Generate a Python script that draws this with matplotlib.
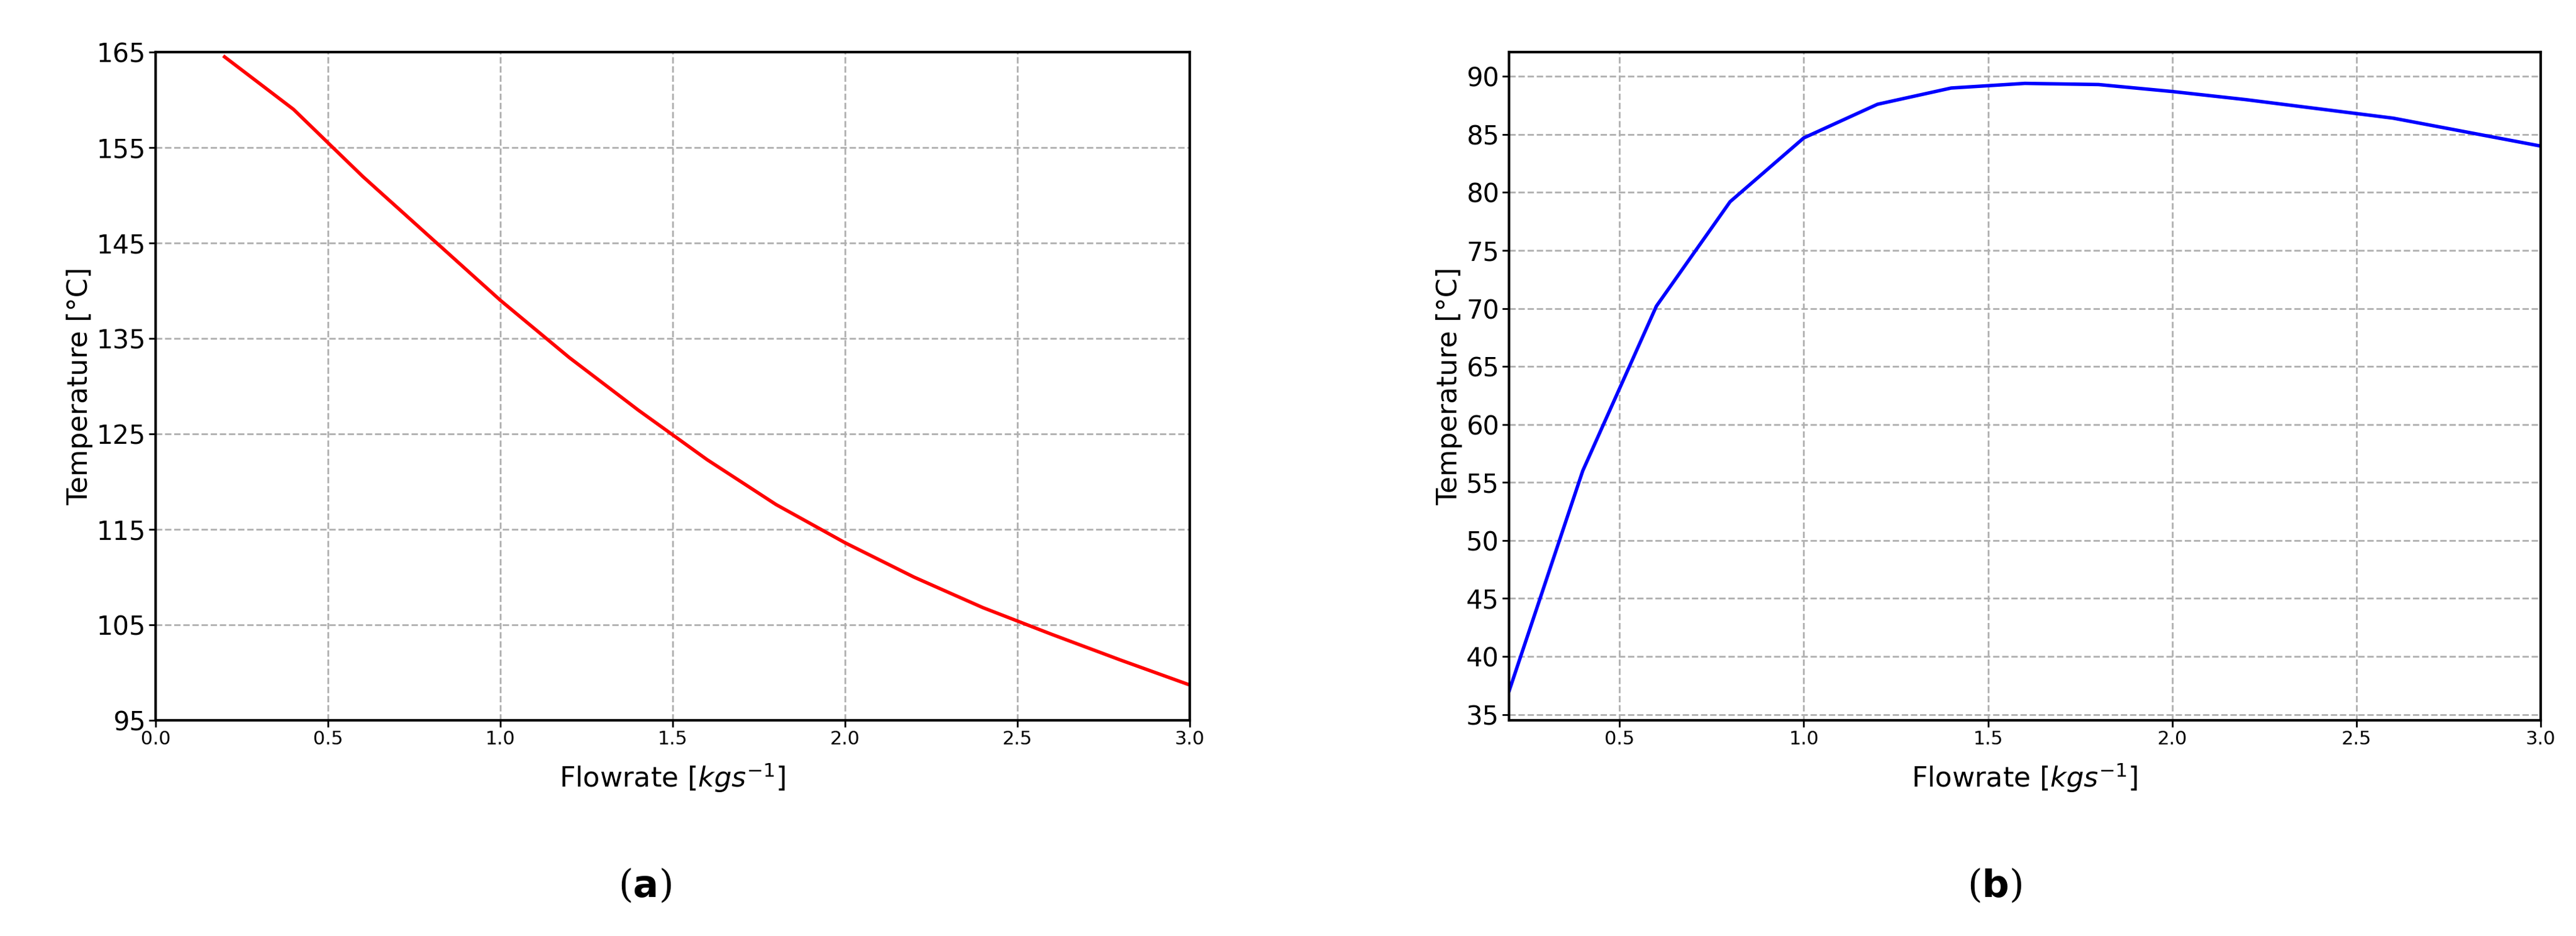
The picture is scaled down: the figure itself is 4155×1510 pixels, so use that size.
import matplotlib
matplotlib.use("Agg")
import matplotlib.pyplot as plt

flow = [0.2,0.4,0.6,0.8,1.0,1.2,1.4,1.6,1.8,2.0,2.2,2.4,2.6,2.8,3.0]
temp_a = [164.5,159,152,145.5,139,133,127.5,122.3,117.6,113.6,110,106.8,104,101.3,98.7]
temp_b = [37,56,70.2,79.2,84.7,87.6,89.0,89.4,89.3,88.7,88.0,87.2,86.4,85.2,84.0]
yt_a = [95,105,115,125,135,145,155,165]
yt_b = list(range(35,91,5))

W,H = 4155,1510
fig = plt.figure(figsize=(W/100,H/100), dpi=100)
axa = fig.add_axes([251/W, 1-1162/H, (1919-251)/W, (1162-84)/H])
axb = fig.add_axes([2434/W, 1-1162/H, (4098-2434)/W, (1162-84)/H])

def style(ax):
    ax.grid(True, ls='--', color='#b0b0b0', lw=2)
    ax.set_axisbelow(True)
    for s in ax.spines.values():
        s.set_linewidth(3)
    ax.tick_params(axis='y', labelsize=30, width=2, length=8)
    ax.tick_params(axis='x', labelsize=22, width=2, length=8)
    ax.set_xlabel(r'Flowrate [$kgs^{-1}$]', fontsize=32, labelpad=15)
    ax.set_ylabel('Temperature [°C]', fontsize=32)

axa.plot(flow, temp_a, color='red', lw=4)
axa.set_xlim(0,3.0); axa.set_ylim(95,165)
axa.set_yticks(yt_a)
axa.set_xticks([0,0.5,1,1.5,2,2.5,3])
style(axa)

axb.plot(flow, temp_b, color='blue', lw=4)
axb.set_xlim(0.2,3.0); axb.set_ylim(34.5,92.1)
axb.set_yticks(yt_b)
axb.set_xticks([0.5,1,1.5,2,2.5,3])
style(axb)

for xc, letter in [(1040, 'a'), (3217, 'b')]:
    fig.text(xc/W, 1-1430/H, '(' + r'$\mathbf{' + letter + '}$' + ')', ha='center', va='center',
             fontsize=44, family='DejaVu Serif')
fig.savefig('out.png', dpi=100)
